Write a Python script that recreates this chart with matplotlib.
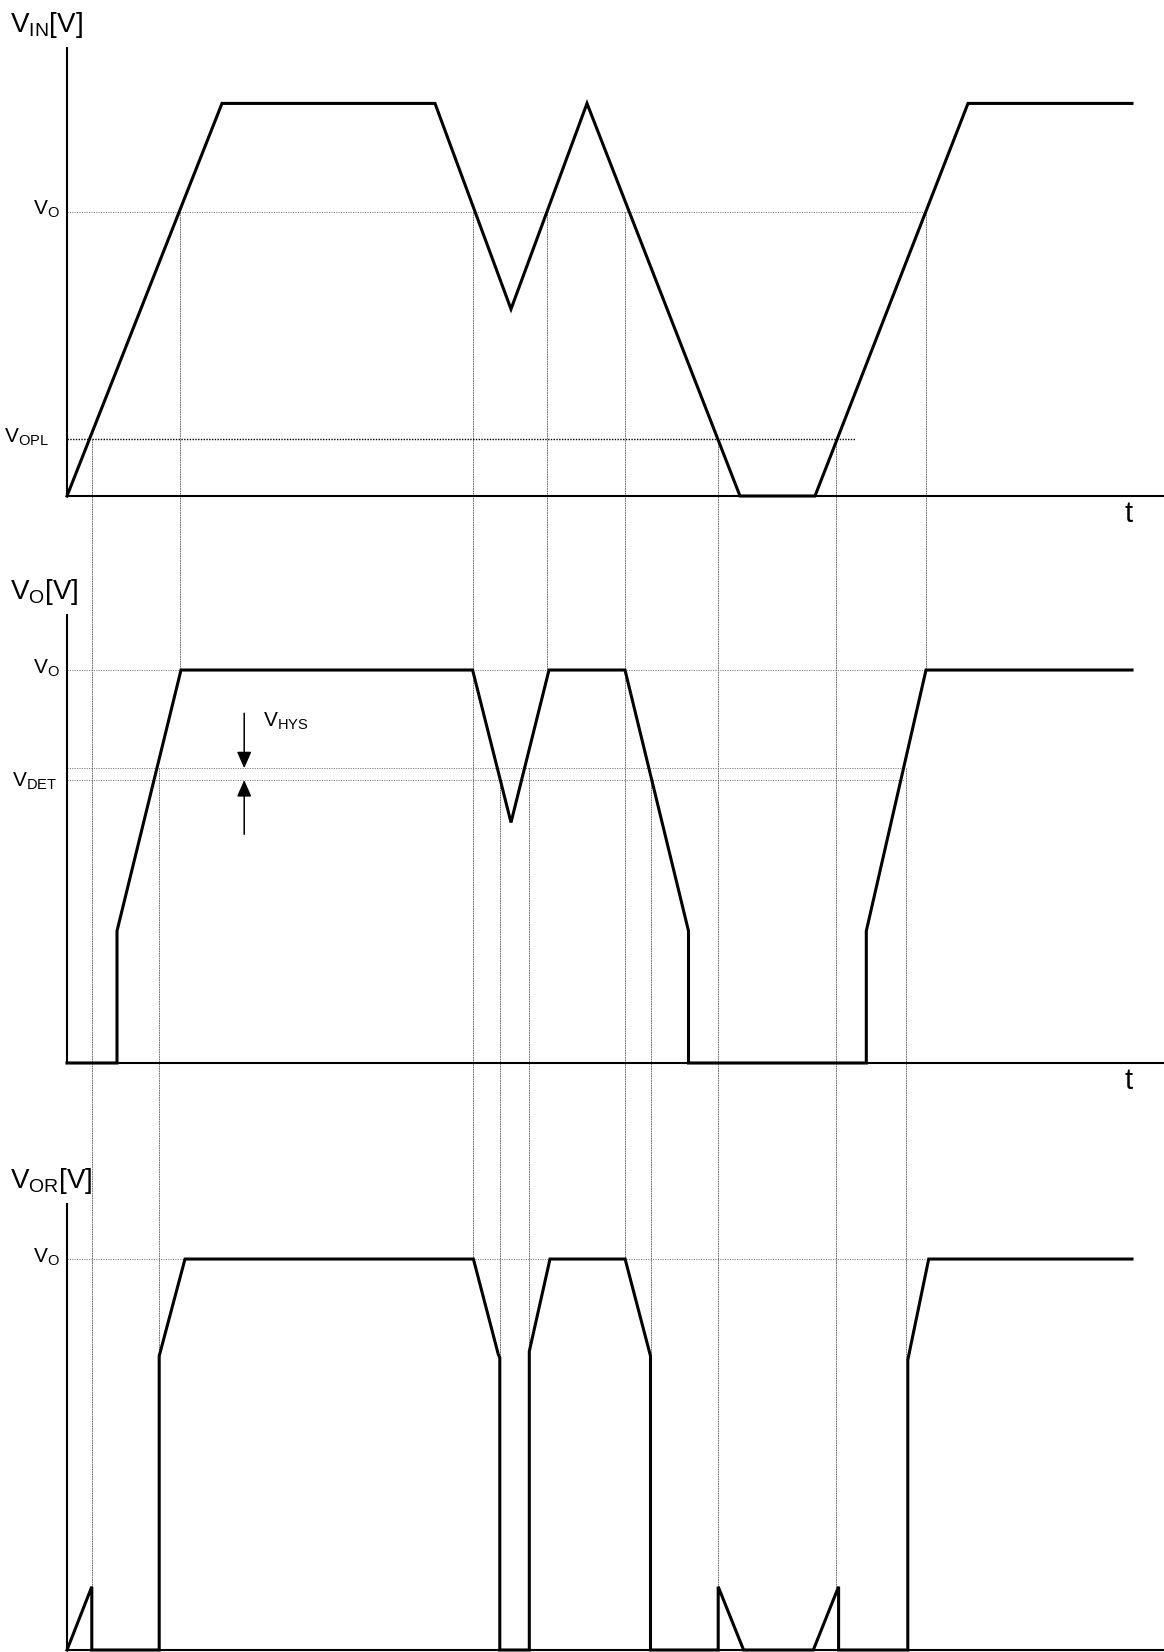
import matplotlib
matplotlib.use("Agg")
import matplotlib.pyplot as plt
from matplotlib.patches import ConnectionPatch

plt.rcParams["font.family"] = ["Liberation Sans", "DejaVu Sans"]
plt.rcParams["mathtext.fontset"] = "custom"
plt.rcParams["mathtext.rm"] = "Liberation Sans"

# time axis in arbitrary units
T_END = 109.7
T_LABEL = 106.2

# input voltage V_IN
vin_t = [0, 15.5, 36.8, 44.4, 52.0, 67.3, 74.8, 90.1, 106.5]
vin_v = [0, 6.91, 6.91, 3.29, 6.91, 0, 0, 6.91, 6.91]
VIN_TOP = 7.88
VIN_O = 5.0
VIN_OPL = 1.0

# output voltage V_O
vo_t = [0, 5.0, 5.0, 11.4, 40.56, 44.4, 48.2, 55.8, 62.15, 62.15, 79.93, 79.93, 85.9, 106.5]
vo_v = [0, 0, 1.68, 5, 5, 3.06, 5, 5, 1.68, 0, 0, 1.68, 5, 5]
VO_TOP = 5.70
VO = 5.0
VDET = 3.6
VDET_HYS = 3.75

# reset output V_OR
vor_t = [0, 2.48, 2.48, 9.22, 9.22, 11.8, 40.64, 43.13, 43.28, 43.28, 46.23, 46.23,
         48.3, 55.81, 58.35, 58.35, 65.12, 65.12, 67.66, 74.63, 77.16, 77.16, 84.08,
         84.08, 86.17, 106.5]
vor_v = [0, 0.81, 0, 0, 3.76, 5, 5, 3.78, 3.74, 0, 0, 3.82,
         5, 5, 3.76, 0, 0, 0.81, 0, 0, 0.81, 0, 0,
         3.71, 5, 5]
VOR_TOP = 5.70

# guide lines dropping from V_IN crossings
guide_t = [2.48, 11.25, 40.56, 48.04, 55.81, 65.1, 76.94, 85.88]
guide_from = [VIN_OPL, VIN_O, VIN_O, VIN_O, VIN_O, VIN_OPL, VIN_OPL, VIN_O]
guide_to = ["vor", "vo", "vor", "vo", "vor", "vor", "vor", "vo"]
guide_to_v = [0.81, 5, 5, 5, 5, 0.81, 0.81, 5]

# guide lines dropping from the detector crossings of V_O
det_t = [9.22, 43.29, 46.21, 58.35, 83.93]
det_from = [VDET_HYS, VDET, VDET_HYS, VDET, VDET_HYS]
det_to_v = [3.76, 3.74, 3.82, 3.76, 3.71]

# extent of the horizontal dotted levels
VIN_O_END = 85.8
VIN_OPL_END = 78.8
VO_END = 85.9
VDET_END = 83.7
VOR_END = 86.0

W, H = 1164, 1652
fig = plt.figure(figsize=(W / 100, H / 100), dpi=100)
fig.patch.set_facecolor("white")

left = 67 / W
width = (W - 67) / W


def make_axes(top_px, bottom_px, ytop):
    ax = fig.add_axes([left, 1 - bottom_px / H, width, (bottom_px - top_px) / H])
    ax.set_xlim(0, T_END)
    ax.set_ylim(0, ytop)
    ax.patch.set_visible(False)
    for s in ["top", "right"]:
        ax.spines[s].set_visible(False)
    for s in ["left", "bottom"]:
        ax.spines[s].set_linewidth(1.5)
    ax.set_xticks([])
    ax.set_yticks([])
    return ax


ax_in = make_axes(48.3, 496, VIN_TOP)
ax_o = make_axes(615, 1063, VO_TOP)
ax_or = make_axes(1204.3, 1650, VOR_TOP)

wave = dict(color="black", lw=2.2, clip_on=False, solid_joinstyle="miter", zorder=3)
ax_in.plot(vin_t, vin_v, **wave)
ax_o.plot(vo_t, vo_v, **wave)
ax_or.plot(vor_t, vor_v, **wave)

GUIDE = "#707070"
dot = dict(color=GUIDE, lw=0.72, linestyles=(0, (1, 1.4)), zorder=1)
ax_in.hlines(VIN_O, 0, VIN_O_END, **dot)
ax_in.hlines(VIN_OPL, 0, VIN_OPL_END, color="black", lw=1.0, linestyles=(0, (1, 1)))
ax_o.hlines(VO, 0, VO_END, **dot)
ax_o.hlines([VDET, VDET_HYS], 0, VDET_END, **dot)
ax_or.hlines(VO, 0, VOR_END, **dot)

panels = {"vo": ax_o, "vor": ax_or}
for t, v0, p, v1 in zip(guide_t, guide_from, guide_to, guide_to_v):
    con = ConnectionPatch(xyA=(t, v0), coordsA="data", axesA=ax_in,
                          xyB=(t, v1), coordsB="data", axesB=panels[p],
                          color=GUIDE, lw=0.72, linestyle=(0, (1, 1.4)), zorder=-1)
    con.set_snap(True)
    fig.add_artist(con)
for t, v0, v1 in zip(det_t, det_from, det_to_v):
    con = ConnectionPatch(xyA=(t, v0), coordsA="data", axesA=ax_o,
                          xyB=(t, v1), coordsB="data", axesB=ax_or,
                          color=GUIDE, lw=0.72, linestyle=(0, (1, 1.4)), zorder=-1)
    con.set_snap(True)
    fig.add_artist(con)


def level_label(ax, v, text, pad):
    ax.annotate(text, xy=(0, v), xycoords=ax.get_yaxis_transform(),
                xytext=(-pad, 1.5), textcoords="offset points",
                ha="right", va="center", fontsize=15)


level_label(ax_in, VIN_O, r"$\mathregular{V_O}$", 5.5)
level_label(ax_in, VIN_OPL, r"$\mathregular{V_{OPL}}$", 13)
level_label(ax_o, VO, r"$\mathregular{V_O}$", 5.5)
level_label(ax_o, 3.56, r"$\mathregular{V_{DET}}$", 7)
level_label(ax_or, VO, r"$\mathregular{V_O}$", 5.5)

# hysteresis arrows
ARROW_T = 17.72
arrow = dict(arrowstyle="-|>,head_length=0.5,head_width=0.22", color="black",
             lw=1.1, shrinkA=0, shrinkB=0, mutation_scale=20)
ax_o.annotate("", xy=(ARROW_T, VDET_HYS), xytext=(ARROW_T, 4.45), arrowprops=arrow)
ax_o.annotate("", xy=(ARROW_T, VDET), xytext=(ARROW_T, 2.91), arrowprops=arrow)
ax_o.text(19.63, 4.35, r"$\mathregular{V_{HYS}}$", ha="left", va="center", fontsize=15)

# time labels
for ax in (ax_in, ax_o):
    ax.annotate("t", xy=(T_LABEL, 0), xytext=(0, -13), textcoords="offset points",
                ha="center", va="center", fontsize=21)

# panel titles
fig.text(10 / W, 1 - 25 / H, r"$\mathregular{V_{IN}}$[V]", ha="left", va="center", fontsize=20)
fig.text(10 / W, 1 - 592 / H, r"$\mathregular{V_{O}}$[V]", ha="left", va="center", fontsize=20)
fig.text(10 / W, 1 - 1181 / H, r"$\mathregular{V_{OR}}$[V]", ha="left", va="center", fontsize=20)

fig.savefig("out.png", dpi=100, facecolor="white")
